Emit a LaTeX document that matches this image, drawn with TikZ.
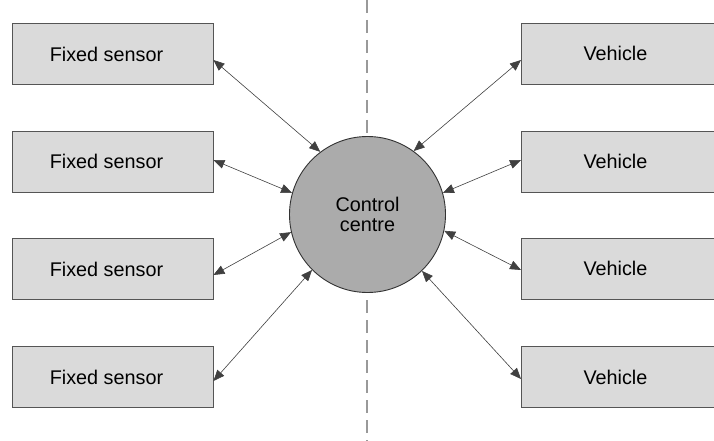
\documentclass[tikz,border=0pt]{standalone}
\usepackage{fontspec}
\setmainfont{Liberation Sans}
\usetikzlibrary{arrows.meta}
\definecolor{boxfill}{HTML}{DADADA}
\definecolor{hubfill}{HTML}{ABABAB}
\definecolor{edgegray}{HTML}{555555}
\begin{document}
\begin{tikzpicture}[x=1pt,y=-1pt,
  unitbox/.style={draw=edgegray, line width=0.9pt, fill=boxfill,
    minimum width=201pt, minimum height=61pt, inner sep=0pt,
    font=\fontsize{19.8}{21}\selectfont},
  hub/.style={circle, draw=black!80, line width=0.9pt, fill=hubfill,
    minimum size=156pt, inner sep=0pt, align=center,
    font=\fontsize{19.8}{20}\selectfont},
  link/.style={draw=black!75, line width=0.6pt,
    {Triangle[length=11pt,width=9pt]}-{Triangle[length=11pt,width=9pt]}},
  divider/.style={draw=black!40, line width=2.4pt, dash pattern=on 13pt off 7pt}
]
\useasboundingbox (0,0) rectangle (714,441);
\clip (0,0) rectangle (714,441);

% dividing line behind the control centre
\draw[divider] (367,0) -- (367,441);

% control centre
\node[hub] (c) at (367.5,214.5) {Control\\centre};

% fixed sensors on the left
\node[unitbox] (s1) at (112.5,54) {\hspace*{-12pt}Fixed sensor};
\node[unitbox] (s2) at (112.5,161.5) {\hspace*{-12pt}Fixed sensor};
\node[unitbox] (s3) at (112.5,269) {\hspace*{-12pt}Fixed sensor};
\node[unitbox] (s4) at (112.5,377) {\hspace*{-12pt}Fixed sensor};

% vehicles on the right (boxes run past the right edge)
\node[unitbox, minimum width=200pt, anchor=west] (v1) at (521,53.5) {\hspace*{-12pt}Vehicle};
\node[unitbox, minimum width=200pt, anchor=west] (v2) at (521,161.5) {\hspace*{-12pt}Vehicle};
\node[unitbox, minimum width=200pt, anchor=west] (v3) at (521,268.5) {\hspace*{-12pt}Vehicle};
\node[unitbox, minimum width=200pt, anchor=west] (v4) at (521,377) {\hspace*{-12pt}Vehicle};

% two-way links
\draw[link] ([yshift=-6pt]s1.east) -- (c.127);
\draw[link] ([yshift=1.5pt]s2.east) -- (c.164);
\draw[link] ([yshift=-6pt]s3.east) -- (c.193);
\draw[link] ([yshift=-4pt]s4.east) -- (c.225);
\draw[link] ([yshift=-6.5pt]v1.west) -- (c.54);
\draw[link] ([yshift=1.5pt]v2.west) -- (c.16);
\draw[link] ([yshift=-1.5pt]v3.west) -- (c.-12);
\draw[link] ([yshift=-2pt]v4.west) -- (c.-46);
\end{tikzpicture}
\end{document}
